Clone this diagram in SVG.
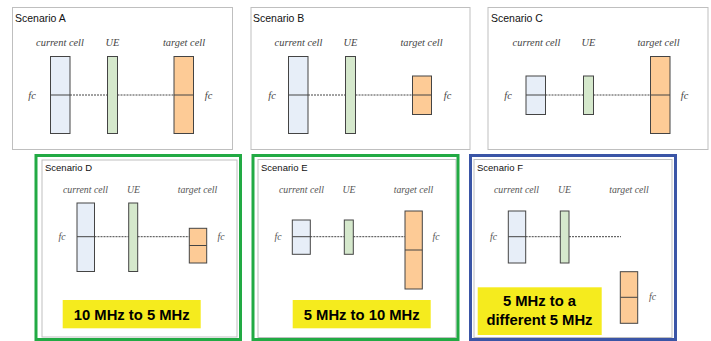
<svg xmlns="http://www.w3.org/2000/svg" width="711" height="341" viewBox="0 0 711 341">
<style>
.frame{fill:#fff;stroke:#bfbfbf;stroke-width:1}
.gfr{fill:none;stroke:#22aa44;stroke-width:3}
.bfr{fill:none;stroke:#3a55a6;stroke-width:3}
.title{font-family:"Liberation Sans",Arial,sans-serif;font-size:10.5px;fill:#111}
.title2{font-family:"Liberation Sans",Arial,sans-serif;font-size:9.5px;fill:#111}
.lbl{font-family:"Liberation Serif","Times New Roman",serif;font-style:italic;font-size:10.4px;fill:#444;text-anchor:middle}
.lbl2{font-family:"Liberation Serif","Times New Roman",serif;font-style:italic;font-size:9.8px;fill:#555;text-anchor:middle}
.cur{fill:#e7eef8;stroke:#444;stroke-width:1}
.ue{fill:#d5e8cc;stroke:#444;stroke-width:1}
.tgt{fill:#fdcb96;stroke:#444;stroke-width:1}
.mid{stroke:#444;stroke-width:1}
.dash{stroke:#444;stroke-width:1;stroke-dasharray:2 1;fill:none}
.yel{fill:#f5eb1e}
.big{font-family:"Liberation Sans",Arial,sans-serif;font-weight:bold;font-size:14.8px;fill:#000;text-anchor:middle}
</style>

<!-- Scenario A -->
<g id="scenarioA">
<rect class="frame" x="12.5" y="7.5" width="220" height="142"/>
<text class="title" x="15" y="21.5">Scenario A</text>
<text class="lbl" x="60" y="45.5">current cell</text>
<text class="lbl" x="112.5" y="45.5">UE</text>
<text class="lbl" x="184" y="45.5">target cell</text>
<text class="lbl" x="32" y="99">fc</text>
<text class="lbl" x="208.5" y="99">fc</text>
<g id="A-current"><rect class="cur" x="50.5" y="56.5" width="19.5" height="77"/><line class="mid" x1="50.5" y1="95" x2="70" y2="95"/></g>
<g id="A-ue"><rect class="ue" x="107.5" y="56.5" width="10" height="77"/></g>
<g id="A-target"><rect class="tgt" x="174" y="56.5" width="19.5" height="77"/><line class="mid" x1="174" y1="95" x2="193.5" y2="95"/></g>
</g>

<!-- Scenario B -->
<g id="scenarioB">
<rect class="frame" x="251" y="7.5" width="219" height="142"/>
<text class="title" x="253" y="21.5">Scenario B</text>
<text class="lbl" x="298.5" y="45.5">current cell</text>
<text class="lbl" x="350.5" y="45.5">UE</text>
<text class="lbl" x="421.5" y="45.5">target cell</text>
<text class="lbl" x="272" y="99">fc</text>
<text class="lbl" x="447.5" y="99">fc</text>
<g id="B-current"><rect class="cur" x="288.5" y="56.5" width="19.5" height="77"/><line class="mid" x1="288.5" y1="95" x2="308" y2="95"/></g>
<g id="B-ue"><rect class="ue" x="345.5" y="56.5" width="10" height="77"/></g>
<g id="B-target"><rect class="tgt" x="412.5" y="76" width="19" height="38.5"/><line class="mid" x1="412.5" y1="95" x2="431.5" y2="95"/></g>
</g>

<!-- Scenario C -->
<g id="scenarioC">
<rect class="frame" x="488" y="7.5" width="220" height="142"/>
<text class="title" x="491" y="21.5">Scenario C</text>
<text class="lbl" x="536.5" y="45.5">current cell</text>
<text class="lbl" x="588.5" y="45.5">UE</text>
<text class="lbl" x="658.5" y="45.5">target cell</text>
<text class="lbl" x="508" y="99">fc</text>
<text class="lbl" x="684.5" y="99">fc</text>
<g id="C-current"><rect class="cur" x="526" y="76" width="19.5" height="38.5"/><line class="mid" x1="526" y1="95" x2="545.5" y2="95"/></g>
<g id="C-ue"><rect class="ue" x="583.5" y="76" width="10" height="38.5"/></g>
<g id="C-target"><rect class="tgt" x="650.5" y="56.5" width="19.5" height="77"/><line class="mid" x1="650.5" y1="95" x2="670" y2="95"/></g>
</g>

<!-- Scenario D -->
<g id="scenarioD">
<rect class="frame" x="42" y="160" width="195" height="177"/>
<rect class="gfr" x="36" y="155.5" width="204.5" height="184"/>
<text class="title2" x="45" y="171">Scenario D</text>
<text class="lbl2" x="85.5" y="192.5">current cell</text>
<text class="lbl2" x="133.5" y="192.5">UE</text>
<text class="lbl2" x="197.5" y="192.5">target cell</text>
<text class="lbl2" x="62" y="240">fc</text>
<text class="lbl2" x="221" y="240">fc</text>
<g id="D-current"><rect class="cur" x="77" y="203" width="17.5" height="68.5"/><line class="mid" x1="77" y1="236.7" x2="94.5" y2="236.7"/></g>
<g id="D-ue"><rect class="ue" x="128.7" y="203" width="9" height="68.5"/></g>
<g id="D-target"><rect class="tgt" x="189.3" y="228.3" width="17.4" height="34.7"/><line class="mid" x1="189.3" y1="245.5" x2="206.7" y2="245.5"/></g>
<rect class="yel" x="62.7" y="300" width="138" height="28.3"/>
<text class="big" x="131.7" y="319.5">10 MHz to 5 MHz</text>
</g>

<!-- Scenario E -->
<g id="scenarioE">
<rect class="frame" x="258" y="159.5" width="198" height="178"/>
<rect class="gfr" x="253" y="155.5" width="205" height="184"/>
<text class="title2" x="261" y="171">Scenario E</text>
<text class="lbl2" x="301.5" y="192.5">current cell</text>
<text class="lbl2" x="349" y="192.5">UE</text>
<text class="lbl2" x="413.5" y="192.5">target cell</text>
<text class="lbl2" x="278" y="240">fc</text>
<text class="lbl2" x="436" y="240">fc</text>
<g id="E-current"><rect class="cur" x="292.3" y="220" width="18" height="34.3"/><line class="mid" x1="292.3" y1="236.7" x2="310.3" y2="236.7"/></g>
<g id="E-ue"><rect class="ue" x="344.3" y="220" width="9" height="34.3"/></g>
<g id="E-target"><rect class="tgt" x="405" y="211" width="17.3" height="78"/><line class="mid" x1="405" y1="250" x2="422.3" y2="250"/></g>
<rect class="yel" x="292.7" y="300" width="138" height="28.3"/>
<text class="big" x="361.7" y="319.5">5 MHz to 10 MHz</text>
</g>

<!-- Scenario F -->
<g id="scenarioF">
<rect class="frame" x="474" y="159.5" width="198" height="178"/>
<rect class="bfr" x="470.5" y="155.5" width="205" height="184"/>
<text class="title2" x="477" y="171">Scenario F</text>
<text class="lbl2" x="516.5" y="192.5">current cell</text>
<text class="lbl2" x="564.5" y="192.5">UE</text>
<text class="lbl2" x="629" y="192.5">target cell</text>
<text class="lbl2" x="493.5" y="240">fc</text>
<text class="lbl2" x="652.5" y="300">fc</text>
<g id="F-current"><rect class="cur" x="508.3" y="211" width="17.4" height="52"/><line class="mid" x1="508.3" y1="236.7" x2="525.7" y2="236.7"/></g>
<g id="F-ue"><rect class="ue" x="560.3" y="211" width="8.7" height="52"/></g>
<g id="F-target"><rect class="tgt" x="620.3" y="271.7" width="17.4" height="51.6"/><line class="mid" x1="620.3" y1="297.3" x2="637.7" y2="297.3"/></g>
<rect class="yel" x="477.7" y="287.3" width="124" height="47.7"/>
<text class="big" x="539.5" y="305.5">5 MHz to a</text>
<text class="big" x="539.5" y="324.5">different 5 MHz</text>
</g>

<!-- connectors -->
<g id="connectors">
<line class="dash" x1="70" y1="95" x2="107.5" y2="95"/>
<line class="dash" x1="117.5" y1="95" x2="174" y2="95"/>
<line class="dash" x1="308" y1="95" x2="345.5" y2="95"/>
<line class="dash" x1="355.5" y1="95" x2="412.5" y2="95"/>
<line class="dash" x1="545.5" y1="95" x2="583.5" y2="95"/>
<line class="dash" x1="593.5" y1="95" x2="650.5" y2="95"/>
<line class="dash" x1="94.5" y1="236.7" x2="128.7" y2="236.7"/>
<line class="dash" x1="137.7" y1="236.7" x2="189.3" y2="236.7"/>
<line class="dash" x1="310.3" y1="236.7" x2="344.3" y2="236.7"/>
<line class="dash" x1="353.3" y1="236.7" x2="405" y2="236.7"/>
<line class="dash" x1="525.7" y1="236.7" x2="560.3" y2="236.7"/>
<line class="dash" x1="569" y1="236.7" x2="621" y2="236.7"/>
</g>
</svg>
